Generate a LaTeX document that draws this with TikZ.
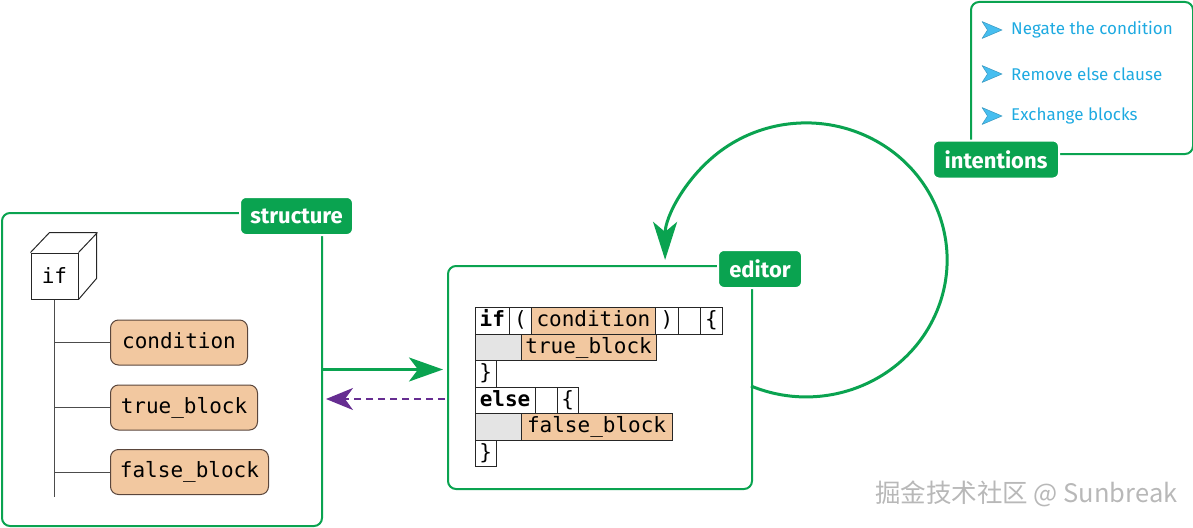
\documentclass[tikz,border=0pt]{standalone}
\usepackage{fontspec}
\setmainfont{Fira Sans}
\newfontfamily\codefont{DejaVu Sans Mono}
\newfontfamily\cjkfont{Noto Sans CJK SC}
\usetikzlibrary{arrows.meta}
\definecolor{grn}{RGB}{10,163,80}
\definecolor{org}{RGB}{242,200,160}
\definecolor{orgline}{RGB}{90,70,60}
\definecolor{purp}{RGB}{102,45,145}
\definecolor{ibl}{RGB}{30,170,225}
\definecolor{icon}{RGB}{70,190,240}
\definecolor{celgray}{RGB}{228,228,228}
\tikzset{
  panel/.style={draw=grn, line width=2pt, rounded corners=8pt, anchor=north west, inner sep=0pt},
  tag/.style={fill=grn, draw=white, line width=2pt, rounded corners=6pt, text=white,
     font=\fontsize{22}{22}\selectfont\bfseries, minimum height=38pt, inner sep=0pt},
  leaf/.style={draw=orgline, fill=org, line width=1pt, rounded corners=8pt, anchor=west,
     minimum height=45pt, inner sep=0pt, font=\codefont\fontsize{21}{21}\selectfont,
     text height=15pt, text depth=4pt},
  cell/.style={draw=black!85, line width=0.8pt, anchor=north west, minimum height=26.5pt,
     inner sep=0pt, font=\codefont\fontsize{21}{21}\selectfont, text height=16pt, text depth=4pt},
  kw/.style={cell, font=\codefont\bfseries\fontsize{21}{21}\selectfont},
  ocell/.style={cell, fill=org},
  gcell/.style={cell, fill=celgray},
  flow/.style={draw=grn, line width=3pt, -{Stealth[length=34pt, width=24pt, inset=9pt]}},
  backflow/.style={draw=purp, line width=2pt, dashed, dash pattern=on 7pt off 5pt,
     -{Stealth[length=27pt, width=22pt, inset=8pt]}},
  loopflow/.style={draw=grn, line width=3pt, -{Stealth[length=38pt, width=24pt, inset=10pt]}},
  item/.style={anchor=west, text=ibl, font=\fontsize{17}{17}\selectfont, inner sep=0pt},
}
\begin{document}
\begin{tikzpicture}[x=1pt, y=-1pt]
\useasboundingbox (0,0) rectangle (1193,527);

% panels
\node[panel, minimum width=320pt, minimum height=313pt] (structure) at (1,212) {};
\node[panel, minimum width=304pt, minimum height=223pt] (editor) at (447,265) {};
\node[panel, minimum width=222pt, minimum height=152pt] (intentions) at (970,1) {};

% tags
\node[tag, minimum width=113pt] (tstructure) at (296.5,216) {structure};
\node[tag, minimum width=84pt] (teditor) at (760,269) {editor};
\node[tag, minimum width=126pt] (tintentions) at (996,159.5) {intentions};

% cube
\node[draw=black!85, line width=1pt, minimum width=47pt, minimum height=46pt, inner sep=0pt,
  font=\codefont\fontsize{21}{21}\selectfont] (ifn) at (54.5,276) {if};
\draw[black!85, line width=1pt, line join=round] (ifn.north west) -- ++(19,-20) -- ++(47,0) -- ++(0,46) -- (ifn.south east)
  (ifn.north east) -- ++(19,-20);

% tree leaves
\node[leaf, minimum width=137pt] (cond) at (110,342.5) {condition};
\node[leaf, minimum width=147pt] (tb) at (110,407.5) {true\_block};
\node[leaf, minimum width=158pt] (fb) at (110,472) {false\_block};
\coordinate (trunkend) at (54,497);
\draw[black!70, line width=1pt] (ifn.south) -- (ifn.south |- trunkend);
\draw[black!70, line width=1pt] (cond.west) -- (cond.west -| ifn.south);
\draw[black!70, line width=1pt] (tb.west) -- (tb.west -| ifn.south);
\draw[black!70, line width=1pt] (fb.west) -- (fb.west -| ifn.south);

% editor cells
\node[kw, minimum width=34.3pt] (c11) at (474.7,307) {if};
\node[cell, minimum width=22pt] (c12) at (509,307) {(};
\node[ocell, minimum width=124pt] (c13) at (531,307) {condition};
\node[cell, minimum width=23pt] (c14) at (655,307) {)};
\node[cell, minimum width=22pt] (c15) at (678,307) {};
\node[cell, minimum width=22pt] (c16) at (700,307) {\{};
\node[gcell, minimum width=46pt] (c21) at (474.7,333.5) {};
\node[ocell, minimum width=135pt] (c22) at (520.7,333.5) {true\_block};
\node[cell, minimum width=21.3pt] (c31) at (474.7,360) {\}};
\node[kw, minimum width=60pt] (c41) at (474.7,386.5) {else};
\node[cell, minimum width=22pt] (c42) at (534.7,386.5) {};
\node[cell, minimum width=21.3pt] (c43) at (556.7,386.5) {\{};
\node[gcell, minimum width=46pt] (c51) at (474.7,413) {};
\node[ocell, minimum width=151pt] (c52) at (520.7,413) {false\_block};
\node[cell, minimum width=21.3pt] (c61) at (474.7,439.5) {\}};

% connectors
\draw[flow, shorten >=4pt] (structure.east) -- (structure.east -| editor.west);
\coordinate (backy) at (0,399);
\draw[backflow, shorten <=2pt, shorten >=3pt] (editor.west |- backy) -- (structure.east |- backy);
\coordinate (loopstart) at (751,386);
\draw[loopflow] (loopstart) arc[start angle=113, end angle=-180, x radius=141, y radius=137];

% intentions items
\foreach \yy in {30,74,116} {
  \fill[icon, draw=icon!80!black, line width=0.5pt, line join=round]
    (982,\yy-8.5) -- (1002,\yy) -- (982,\yy+8.5) -- (987.5,\yy) -- cycle;
}
\node[item] (i1) at (1011,30) {Negate the condition};
\node[item] (i2) at (1011,74) {Remove else clause};
\node[item] (i3) at (1011,116) {Exchange blocks};

% watermark
\node[text=black!28, font=\cjkfont\fontsize{25.5}{25.5}\selectfont, anchor=west, inner sep=0pt] (wm) at (875,494) {掘金技术社区 @ Sunbreak};
\end{tikzpicture}
\end{document}
